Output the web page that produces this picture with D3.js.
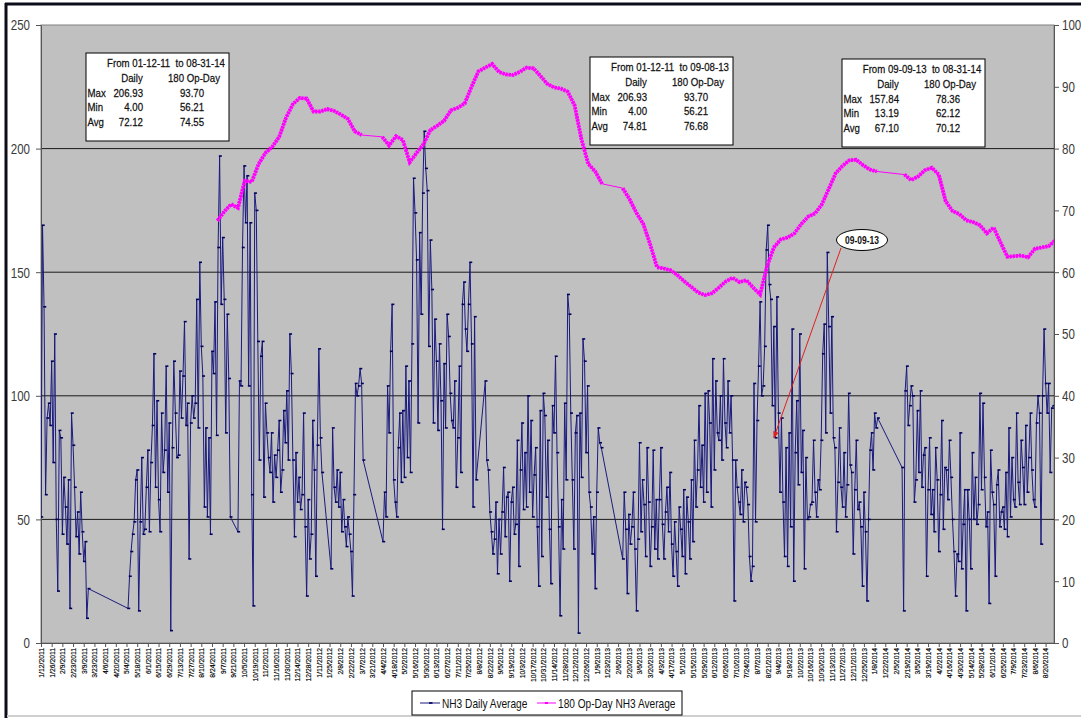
<!DOCTYPE html>
<html>
<head>
<meta charset="utf-8">
<script src="https://cdn.jsdelivr.net/npm/d3@7"></script>
<style>
  html, body { margin: 0; padding: 0; background: #fff; }
  svg { display: block; font-family: "Liberation Sans", Arial, sans-serif; }
</style>
</head>
<body>
<svg id="chart" width="1081" height="721"></svg>
<script>
// NH3 daily average, one reading every 2 days from 1/12/2011 (null = no reading / plant down)
const dailyStart = "2011-01-12";
const dailyStepDays = 2;
const dailyAvg = [
  51,169,136,60,91,97,88,114,73,125,50,21,86,83,44,
  67,55,40,66,14,93,80,63,43,53,36,61,45,33,41,
  10,22,null,null,null,null,null,null,null,null,null,null,null,null,null,
  null,null,null,null,null,null,null,null,null,null,null,null,14,27,37,
  44,49,66,70,13,49,75,44,46,63,78,45,73,88,117,
  63,98,58,45,93,69,78,112,61,89,5,79,114,93,75,
  76,110,91,108,130,88,97,34,89,100,91,97,139,87,154,
  120,108,55,87,51,83,44,118,109,138,84,160,197,137,164,
  139,85,133,107,51,null,null,null,null,45,106,104,160,193,170,
  189,104,170,60,15,182,175,122,74,116,122,59,97,85,75,
  69,85,57,76,67,78,90,61,70,94,81,102,74,125,109,
  74,43,77,57,67,54,60,93,47,19,58,34,44,90,70,
  27,80,119,83,69,null,null,null,null,null,30,87,63,57,70,
  55,69,45,58,47,39,51,44,37,19,60,105,100,104,111,
  105,74,null,null,null,null,null,null,null,null,null,null,null,null,41,
  61,51,104,85,118,137,66,57,51,79,93,65,94,67,112,
  75,106,69,121,188,174,155,89,166,133,182,207,192,183,120,
  163,143,89,131,114,86,121,98,46,113,87,133,124,101,90,
  87,106,63,83,112,69,137,146,127,118,137,154,121,55,132,
  66,null,null,null,null,null,106,74,70,53,45,36,42,57,28,
  50,36,53,71,43,59,61,25,57,63,44,48,82,31,70,
  89,54,77,55,100,61,90,51,68,79,47,23,94,35,101,
  92,59,82,46,24,96,85,116,77,47,11,58,38,97,66,
  141,133,93,66,38,85,92,4,93,67,123,114,77,104,61,
  55,36,51,22,61,87,81,79,null,null,null,null,null,null,null,
  null,null,null,null,null,null,34,61,46,20,52,40,47,61,38,
  13,42,81,45,66,56,35,79,57,31,47,78,38,58,34,
  58,79,48,34,53,63,45,69,40,27,49,37,23,55,46,
  35,62,28,59,49,34,66,41,82,55,70,96,63,80,57,
  101,61,102,89,55,115,70,106,85,82,100,74,115,89,79,
  106,85,100,74,17,74,63,57,52,70,49,65,63,56,35,
  25,31,105,49,90,112,138,100,104,120,159,169,145,139,96,
  128,83,140,93,61,91,57,35,79,31,85,47,127,25,77,
  98,64,125,69,86,30,75,50,51,56,57,82,61,51,66,
  62,82,117,129,85,158,128,93,132,83,79,45,65,87,63,
  55,77,51,64,101,72,69,36,62,82,54,57,47,23,61,
  45,17,50,78,85,70,93,87,91,null,null,null,null,null,null,
  null,null,null,null,null,null,null,null,null,71,13,102,112,88,96,
  104,100,57,66,94,69,102,63,76,79,27,62,83,52,62,
  45,79,66,37,60,90,46,71,70,58,82,67,50,37,19,
  36,33,85,30,48,62,13,62,50,30,77,50,67,48,56,
  101,62,97,67,47,53,16,78,61,56,27,64,70,47,53,
  55,46,69,43,87,51,75,58,55,93,65,56,82,71,56,
  88,61,75,93,70,58,55,89,100,93,40,100,127,105,93,
  105,69,95,96
];

// 180 op-day rolling average (right axis), one reading every 9 days
const avgStart = "2011-08-31";
const avgStepDays = 9;
const opDayAvg = [
  68.3,69.8,71.0,70.4,74.8,74.6,77.5,79.3,80.3,81.9,
  85.0,87.2,88.2,88.1,86.0,86.0,86.4,86.1,85.5,84.8,
  82.8,82.2,null,null,81.9,80.5,82.0,81.4,77.8,79.3,
  80.7,83.0,83.7,84.5,86.2,86.6,87.3,90.0,92.5,93.1,
  93.7,92.4,92.0,91.9,92.4,93.1,93.0,91.8,90.5,89.9,
  89.7,89.2,87.0,81.5,77.5,76.3,74.3,null,null,73.6,
  71.8,69.6,67.8,64.5,60.8,60.6,60.3,59.5,58.5,57.6,
  56.7,56.3,56.6,57.5,58.5,59.1,58.4,58.7,57.5,56.4,
  60.9,64.0,65.3,65.6,66.3,67.8,69.0,69.5,71.0,73.5,
  76.0,77.2,78.1,78.2,77.3,76.6,76.3,null,null,null,
  75.8,74.9,75.5,76.5,76.9,75.8,71.5,69.9,69.4,68.4,
  68.1,67.6,66.3,67.2,64.8,62.5,62.6,62.7,62.4,63.8,
  64.0,64.2,65.2
];

const leftTicks = [0, 50, 100, 150, 200, 250];
const gridValues = [50, 100, 150, 200];
const rightTicks = [0, 10, 20, 30, 40, 50, 60, 70, 80, 90, 100];
const xTickStart = "2011-01-12";
const xTickEnd = "2014-08-31";
const xTickStepDays = 14;

const seriesNames = ["NH3 Daily Average", "180 Op-Day NH3 Average"];

const statTitles = ["From 01-12-11  to 08-31-14", "From 01-12-11  to 09-08-13", "From 09-09-13  to 08-31-14"];
const statRowLabels = ["Max", "Min", "Avg"];
const statDaily = [["206.93", "4.00", "72.12"], ["206.93", "4.00", "74.81"], ["157.84", "13.19", "67.10"]];
const statOpDay = [["93.70", "56.21", "74.55"], ["93.70", "56.21", "76.68"], ["78.36", "62.12", "70.12"]];

const calloutText = "09-09-13";
const calloutTip = ["2013-08-29", 83];

// ---------------------------------------------------------------
const svg = d3.select("#chart");
const W = 1081, H = 721;
const plot = { left: 41, right: 1054, top: 25, bottom: 643 };
const parse = d3.timeParse("%Y-%m-%d");
const navy = "#1a1a7e";
const magenta = "#ff00ff";

const x = d3.scaleTime()
  .domain([parse(xTickStart), parse(xTickEnd)])
  .range([plot.left, plot.right]);
const yL = d3.scaleLinear().domain([0, 250]).range([plot.bottom, plot.top]);
const yR = d3.scaleLinear().domain([0, 100]).range([plot.bottom, plot.top]);

// outer frame
svg.append("rect").attr("width", W).attr("height", H).attr("fill", "#fff");
svg.append("line").attr("x1", 5).attr("x2", W).attr("y1", 4).attr("y2", 4)
  .attr("stroke", "#0d0d1a").attr("stroke-width", 3);
svg.append("line").attr("x1", 6).attr("x2", 6).attr("y1", 3).attr("y2", 718)
  .attr("stroke", "#0d0d1a").attr("stroke-width", 3);
svg.append("line").attr("x1", 7).attr("x2", W).attr("y1", 716).attr("y2", 716)
  .attr("stroke", "#cfcfcf").attr("stroke-width", 2);

// plot area
svg.append("rect")
  .attr("x", plot.left).attr("y", plot.top)
  .attr("width", plot.right - plot.left).attr("height", plot.bottom - plot.top)
  .attr("fill", "#c0c0c0").attr("stroke", "#808080");

svg.append("defs").append("clipPath").attr("id", "clip")
  .append("rect")
  .attr("x", plot.left).attr("y", plot.top)
  .attr("width", plot.right - plot.left).attr("height", plot.bottom - plot.top);

svg.append("g").selectAll("line")
  .data(gridValues)
  .join("line")
  .attr("x1", plot.left).attr("x2", plot.right)
  .attr("y1", d => yL(d)).attr("y2", d => yL(d))
  .attr("stroke", "#1a1a1a").attr("stroke-width", 1);

// axes
const sx = 0.77;
const gLeft = svg.append("g").attr("transform", `translate(${plot.left},0)`)
  .call(d3.axisLeft(yL).tickValues(leftTicks).tickSize(5).tickSizeOuter(0));
gLeft.selectAll("text")
  .attr("x", -11 / sx).attr("transform", `scale(${sx},1)`)
  .style("font-size", "15px").attr("fill", "#3a3a3a");

const gRight = svg.append("g").attr("transform", `translate(${plot.right},0)`)
  .call(d3.axisRight(yR).tickValues(rightTicks).tickSize(5).tickSizeOuter(0));
gRight.selectAll("text")
  .attr("x", 8 / sx).attr("transform", `scale(${sx},1)`)
  .style("font-size", "15px").attr("fill", "#3a3a3a");

const xTicks = d3.timeDay.range(parse(xTickStart), parse(xTickEnd), xTickStepDays);
const gBottom = svg.append("g").attr("transform", `translate(0,${plot.bottom})`)
  .call(d3.axisBottom(x).tickValues(xTicks).tickSize(4).tickSizeOuter(0)
    .tickFormat(d3.timeFormat("%-m/%-d/%Y")));
gBottom.selectAll("text")
  .attr("transform", "rotate(-90)")
  .attr("text-anchor", "end")
  .attr("x", -5).attr("y", 0).attr("dy", "0.35em")
  .style("font-size", "6.8px").attr("fill", "#000")
  .attr("stroke", "#000").attr("stroke-width", 0.15);

[gLeft, gRight, gBottom].forEach(g => {
  g.select(".domain").attr("stroke", "#555");
  g.selectAll(".tick line").attr("stroke", "#555");
});

// daily series
const t0 = parse(dailyStart);
const dailyPts = dailyAvg
  .map((v, i) => ({ date: d3.timeDay.offset(t0, i * dailyStepDays), v }))
  .filter(d => d.v != null);

const series = svg.append("g").attr("clip-path", "url(#clip)");

series.append("path")
  .datum(dailyPts)
  .attr("fill", "none")
  .attr("stroke", navy)
  .attr("stroke-width", 1)
  .attr("stroke-linejoin", "round")
  .attr("d", d3.line().x(d => x(d.date)).y(d => yL(d.v)));

series.append("g").selectAll("rect")
  .data(dailyPts)
  .join("rect")
  .attr("x", d => x(d.date) - 0.8)
  .attr("y", d => yL(d.v) - 0.8)
  .attr("width", 3).attr("height", 1.6)
  .attr("fill", "#000060");

// 180 op-day average
const a0 = parse(avgStart);
const avgAll = opDayAvg.map((v, i) => ({ date: d3.timeDay.offset(a0, i * avgStepDays), v }));
const avgLine = d3.line().x(d => x(d.date)).y(d => yR(d.v));

series.append("path")
  .datum(avgAll.filter(d => d.v != null))
  .attr("fill", "none").attr("stroke", magenta).attr("stroke-width", 1)
  .attr("d", avgLine);

series.append("path")
  .datum(avgAll)
  .attr("fill", "none").attr("stroke", magenta).attr("stroke-width", 3.8)
  .attr("stroke-dasharray", "2.4,0.7")
  .attr("d", avgLine.defined(d => d.v != null));

// stats boxes
function squeezeText(g, X, Y, str, anchor, size, scale) {
  return g.append("text")
    .attr("transform", `translate(${X},${Y}) scale(${scale},1)`)
    .attr("text-anchor", anchor)
    .style("font-size", size + "px")
    .style("white-space", "pre")
    .attr("fill", "#111")
    .text(str);
}

const boxPos = [[86, 53], [590, 57], [842, 59]];
statTitles.forEach((title, b) => {
  const g = svg.append("g").attr("transform", `translate(${boxPos[b][0]},${boxPos[b][1]})`);
  g.append("rect").attr("width", 143).attr("height", 88)
    .attr("fill", "#fff").attr("stroke", "#000").attr("stroke-width", 1);
  const cells = [];
  cells.push(squeezeText(g, 80, 14, title, "middle", 11.5, 0.84));
  cells.push(squeezeText(g, 46, 29, "Daily", "middle", 11.5, 0.84));
  cells.push(squeezeText(g, 108, 29, "180 Op-Day", "middle", 11.5, 0.84));
  statRowLabels.forEach((lab, r) => {
    const yy = 44 + r * 14.3;
    cells.push(squeezeText(g, 1.5, yy, lab, "start", 11.5, 0.84));
    cells.push(squeezeText(g, 57, yy, statDaily[b][r], "end", 11.5, 0.84));
    cells.push(squeezeText(g, 106, yy, statOpDay[b][r], "middle", 11.5, 0.84));
  });
  cells.forEach(t => t.attr("stroke", "#111").attr("stroke-width", 0.25));
});

// callout
const tipX = x(parse(calloutTip[0])), tipY = yL(calloutTip[1]);
svg.append("defs").append("marker")
  .attr("id", "arrow").attr("viewBox", "0 0 10 10")
  .attr("refX", 9).attr("refY", 5)
  .attr("markerWidth", 7).attr("markerHeight", 7)
  .attr("orient", "auto")
  .append("path").attr("d", "M0,1 L10,5 L0,9 z").attr("fill", "#e02020");
svg.append("line")
  .attr("x1", 841).attr("y1", 248).attr("x2", tipX).attr("y2", tipY)
  .attr("stroke", "#e02020").attr("stroke-width", 1)
  .attr("marker-end", "url(#arrow)");
const cg = svg.append("g").attr("transform", "translate(862,240)");
cg.append("ellipse").attr("rx", 25.5).attr("ry", 10.5)
  .attr("fill", "#fff").attr("stroke", "#000");
cg.append("text").attr("transform", "translate(0,3.5) scale(0.85,1)")
  .attr("text-anchor", "middle").style("font-size", "10px")
  .style("font-weight", "bold").attr("fill", "#111").text(calloutText);

// legend
const lg = svg.append("g").attr("transform", "translate(412,691)");
lg.append("rect").attr("width", 270).attr("height", 24)
  .attr("fill", "#fff").attr("stroke", "#000");
lg.append("line").attr("x1", 8).attr("x2", 28).attr("y1", 12).attr("y2", 12)
  .attr("stroke", navy).attr("stroke-width", 1);
lg.append("rect").attr("x", 17).attr("y", 11.2).attr("width", 3.5).attr("height", 1.6).attr("fill", "#000060");
squeezeText(lg, 30, 16.5, seriesNames[0], "start", 13, 0.78);
lg.append("line").attr("x1", 125).attr("x2", 144).attr("y1", 12).attr("y2", 12)
  .attr("stroke", magenta).attr("stroke-width", 1);
lg.append("rect").attr("x", 133).attr("y", 11).attr("width", 3).attr("height", 2).attr("fill", magenta);
squeezeText(lg, 146, 16.5, seriesNames[1], "start", 13, 0.78);
</script>
</body>
</html>
